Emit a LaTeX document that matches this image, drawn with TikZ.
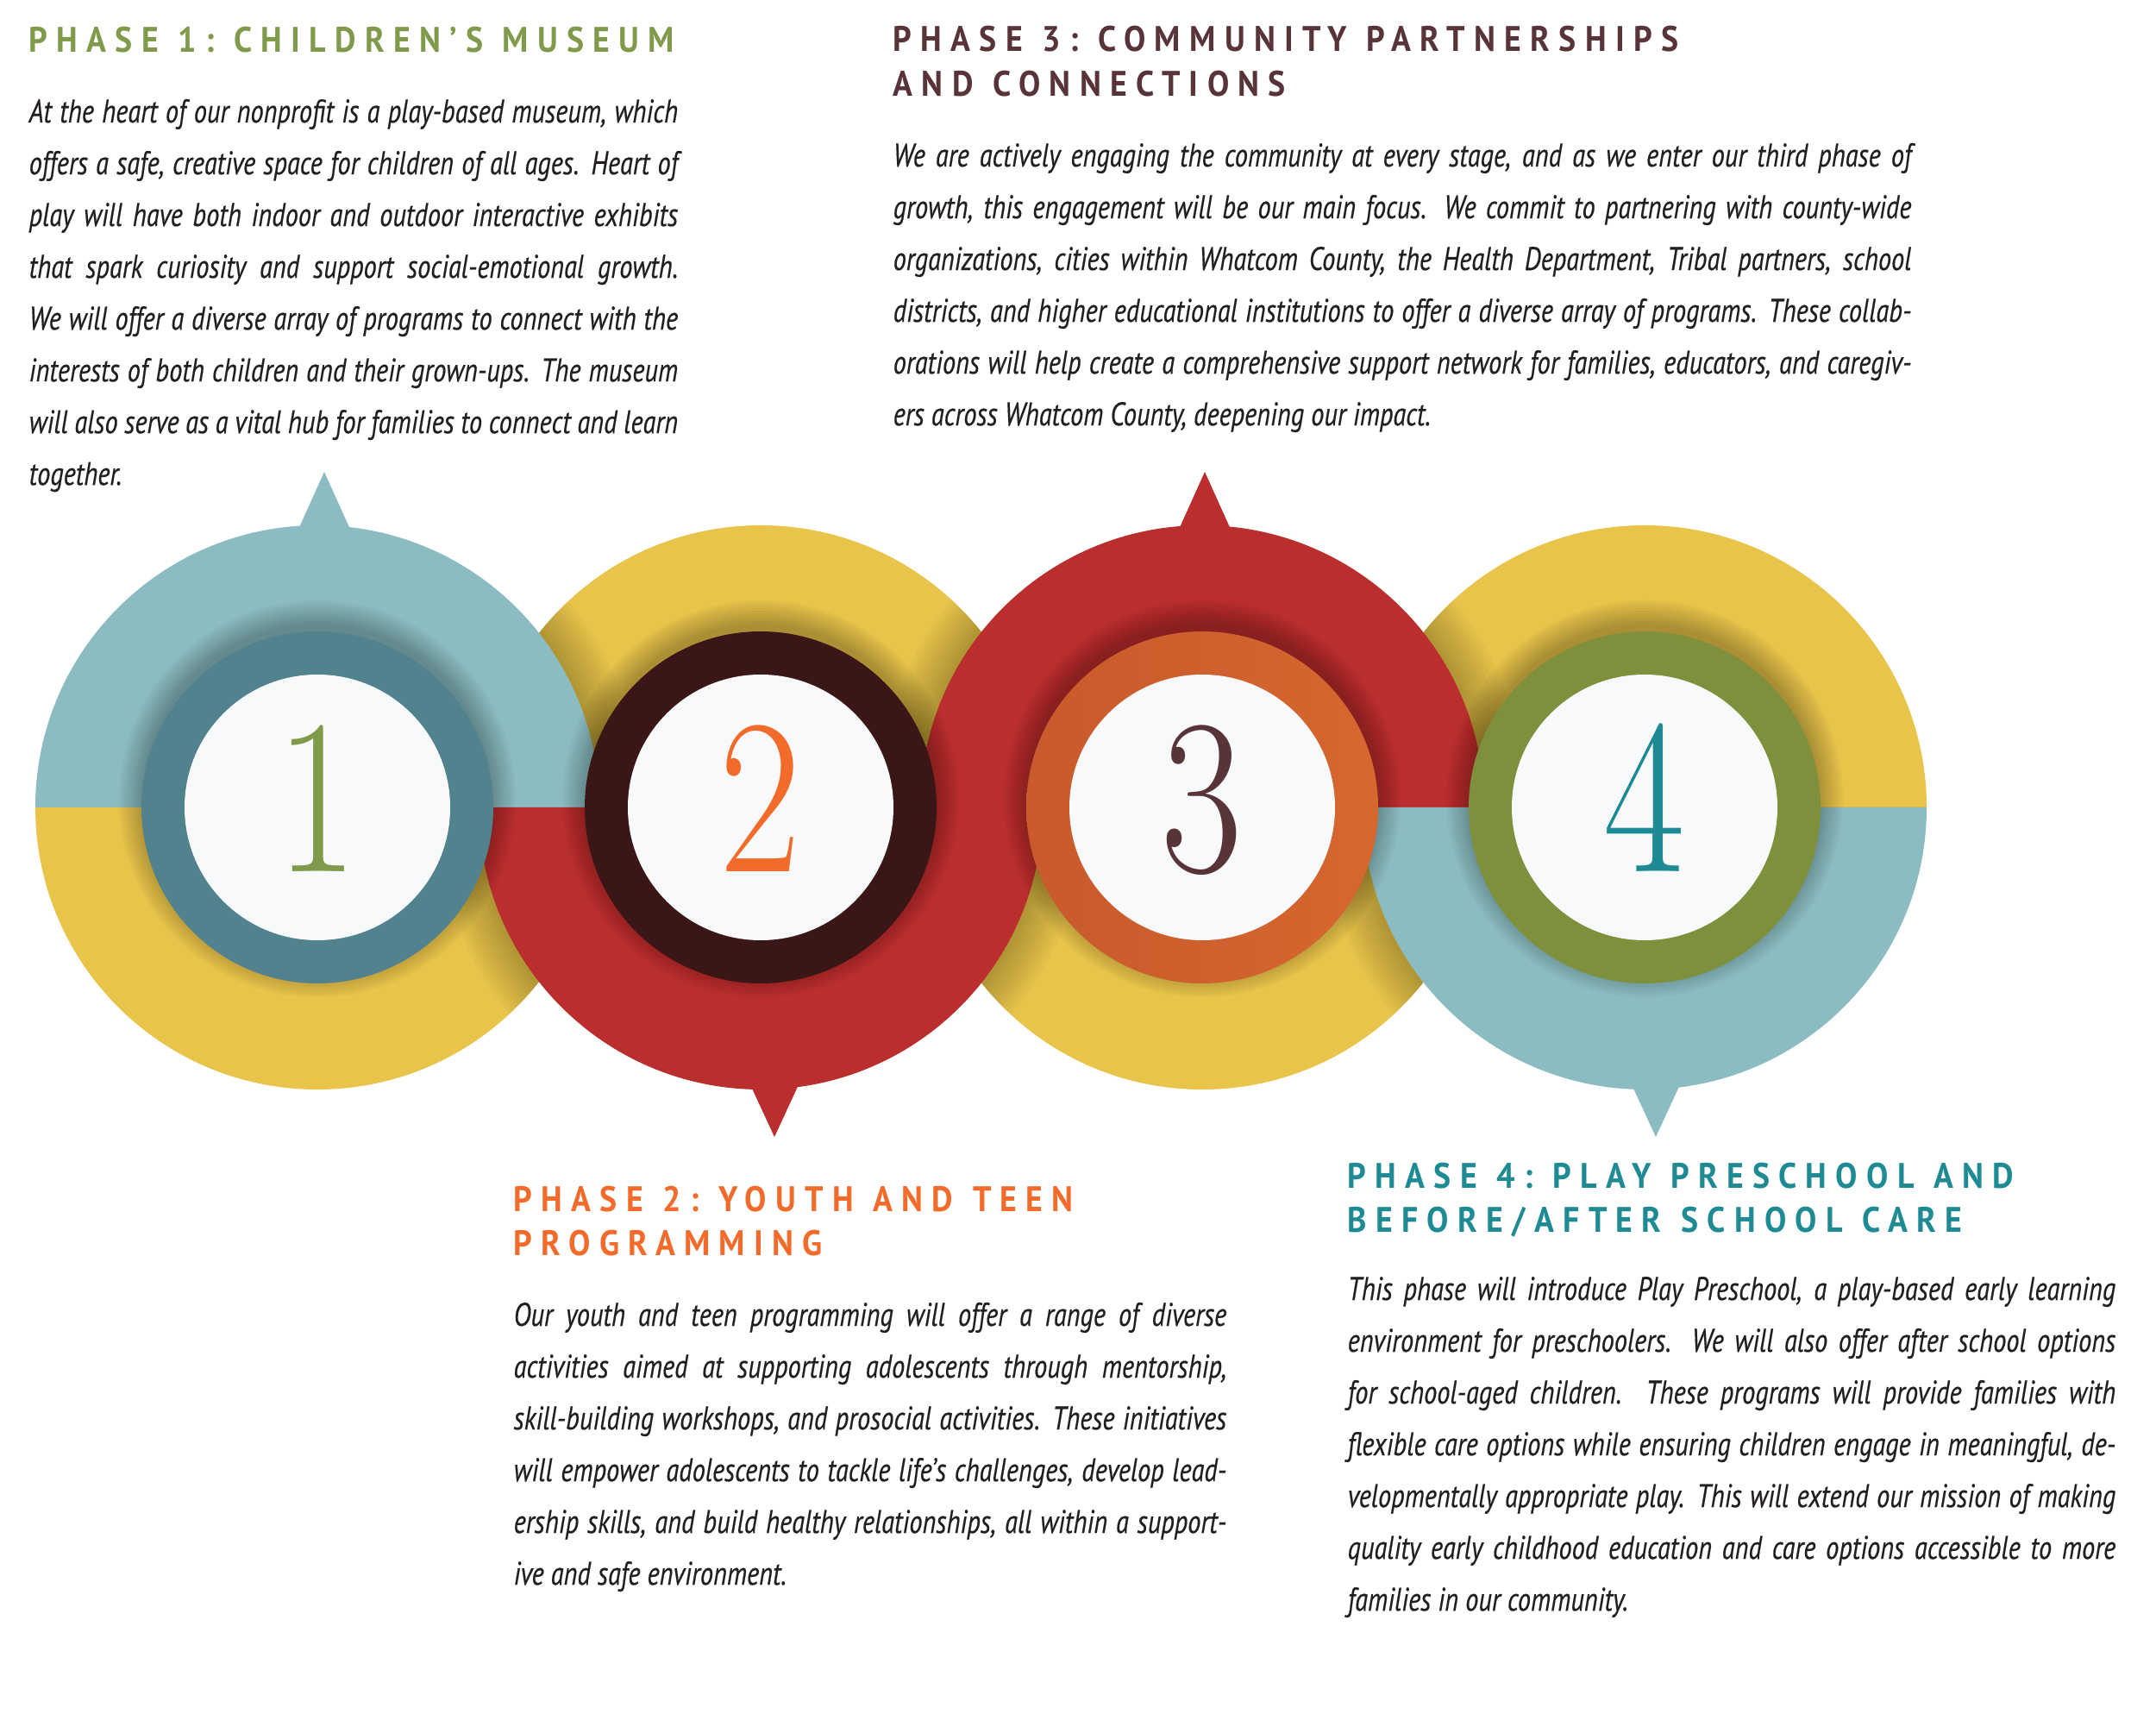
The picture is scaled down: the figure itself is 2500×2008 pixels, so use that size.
\documentclass[tikz,border=0pt]{standalone}
\usepackage{fontspec}
\usetikzlibrary{calc}
\newfontfamily\bodyfont[FakeStretch=0.8,FakeBold=0.4]{PT Sans}
\newfontfamily\headfont[FakeStretch=0.92,LetterSpace=25]{PT Sans}
\newfontfamily\numfont[FakeStretch=0.8]{Latin Modern Roman}
\newcommand\wsp{\hspace{0.55em}}
\definecolor{ink}{HTML}{231F20}
\definecolor{tealpale}{HTML}{8BBCC1}
\definecolor{sun}{HTML}{E8C44A}
\definecolor{brick}{HTML}{BA2E2E}
\definecolor{ringteal}{HTML}{51828E}
\definecolor{ringbrown}{HTML}{3A1617}
\definecolor{ringorange}{HTML}{D6672F}
\definecolor{ringrust}{HTML}{C85A2C}
\definecolor{ringolive}{HTML}{7E903B}
\definecolor{paper}{HTML}{F7F9FA}
\definecolor{olive}{HTML}{7F9A4A}
\definecolor{tangerine}{HTML}{F26B2A}
\definecolor{plum}{HTML}{583338}
\definecolor{lagoon}{HTML}{1E8A94}
\newcommand\upperhalf[2]{(#1) ++({#2},0) arc[start angle=0,end angle=180,radius={#2}] -- cycle}
\newcommand\lowerhalf[2]{(#1) ++({-(#2)},0) arc[start angle=180,end angle=360,radius={#2}] -- cycle}
\tikzset{
  heading/.style={anchor=base west,inner sep=0pt,text width=10cm,align=left,font=\headfont\bfseries\fontsize{11.7}{14.65}\selectfont,text=#1},
  blurb/.style={anchor=base west,inner sep=0pt,text width=#1,align=justify,font=\bodyfont\itshape\fontsize{10.8}{17.07}\selectfont,text=ink},
  numeral/.style={anchor=base,inner sep=0pt,font=\numfont\fontsize{73}{73}\selectfont,text=#1},
  cast/.style={fill=black,opacity=0.025},
  halo/.style={fill=black,opacity=0.028}
}

\begin{document}
\begin{tikzpicture}[x=0.01cm,y=0.01cm]
  \fill[white] (0,0) rectangle (2500,2008);
  \useasboundingbox (0,0) rectangle (2500,2008);
  \coordinate (c1) at (368,1072);
  \coordinate (c2) at (882,1072);
  \coordinate (c3) at (1394,1072);
  \coordinate (c4) at (1907,1072);

  % halves that lie underneath
  \fill[sun] \lowerhalf{c1}{327};
  \fill[sun] \upperhalf{c2}{327};
  \fill[sun] \lowerhalf{c3}{327};
  \fill[sun] \upperhalf{c4}{327};
  \begin{scope}
    \clip \lowerhalf{c1}{327} \upperhalf{c2}{327} \lowerhalf{c3}{327} \upperhalf{c4}{327};
    \foreach \k in {1,...,10}
      \fill[cast] \upperhalf{c1}{327+\k*5} \lowerhalf{c2}{327+\k*5} \upperhalf{c3}{327+\k*5} \lowerhalf{c4}{327+\k*5};
  \end{scope}

  % halves on top, with their spikes
  \fill[tealpale] \upperhalf{c1}{327};
  \fill[tealpale] (408,1390) -- (376,1461) -- (344,1390) -- cycle;
  \fill[brick] \lowerhalf{c2}{327};
  \fill[brick] (867,757) -- (898,690) -- (929,757) -- cycle;
  \fill[brick] \upperhalf{c3}{327};
  \fill[brick] (1429,1390) -- (1397,1461) -- (1365,1390) -- cycle;
  \fill[tealpale] \lowerhalf{c4}{327};
  \fill[tealpale] (1889,757) -- (1920,690) -- (1951,757) -- cycle;

  \foreach \c in {c1,c2,c3,c4}
    \foreach \k in {1,...,10}
      \fill[halo] ($(\c)+(0,10)$) circle ({200+\k*3});

  \fill[ringteal] (c1) circle (204);
  \fill[ringbrown] (c2) circle (204);
  \shade[left color=ringrust,right color=ringorange] (c3) circle (204);
  \fill[ringolive] (c4) circle (204);
  \foreach \c in {c1,c2,c3,c4}
    \fill[paper] (\c) circle (154);

  \node[numeral=olive] (n1) at (368,997) {1};
  \node[numeral=tangerine] (n2) at (882,997) {2};
  \node[numeral=plum] (n3) at (1394,997) {3};
  \node[numeral=lagoon] (n4) at (1907,997) {4};

  \node[heading=olive] (h1) at (33,1947) {PHASE\wsp 1:\wsp CHILDREN’S\wsp MUSEUM};
  \node[blurb=7.52cm] (b1) at (33,1866) {At the heart of our nonprofit is a play-based museum, which\linebreak
    offers a safe, creative space for children of all ages. Heart of\linebreak
    play will have both indoor and outdoor interactive exhibits\linebreak
    that spark curiosity and support social-emotional growth.\linebreak
    We will offer a diverse array of programs to connect with the\linebreak
    interests of both children and their grown-ups. The museum\linebreak
    will also serve as a vital hub for families to connect and learn\linebreak
    together.};

  \node[heading=plum] (h3) at (1035,1948) {PHASE\wsp 3:\wsp COMMUNITY\wsp PARTNERSHIPS\\AND\wsp CONNECTIONS};
  \node[blurb=11.8cm] (b3) at (1035,1815) {We are actively engaging the community at every stage, and as we enter our third phase of\linebreak
    growth, this engagement will be our main focus. We commit to partnering with county-wide\linebreak
    organizations, cities within Whatcom County, the Health Department, Tribal partners, school\linebreak
    districts, and higher educational institutions to offer a diverse array of programs. These collab-\linebreak
    orations will help create a comprehensive support network for families, educators, and caregiv-\linebreak
    ers across Whatcom County, deepening our impact.};

  \node[heading=tangerine] (h2) at (595,604) {PHASE\wsp 2:\wsp YOUTH\wsp AND\wsp TEEN\\PROGRAMMING};
  \node[blurb=8.26cm] (b2) at (595,471) {Our youth and teen programming will offer a range of diverse\linebreak
    activities aimed at supporting adolescents through mentorship,\linebreak
    skill-building workshops, and prosocial activities. These initiatives\linebreak
    will empower adolescents to tackle life’s challenges, develop lead-\linebreak
    ership skills, and build healthy relationships, all within a support-\linebreak
    ive and safe environment.};

  \node[heading=lagoon] (h4) at (1562,631) {PHASE\wsp 4:\wsp PLAY\wsp PRESCHOOL\wsp AND\\BEFORE/AFTER\wsp SCHOOL\wsp CARE};
  \node[blurb=8.9cm] (b4) at (1562,501) {This phase will introduce Play Preschool, a play-based early learning\linebreak
    environment for preschoolers. We will also offer after school options\linebreak
    for school-aged children. These programs will provide families with\linebreak
    flexible care options while ensuring children engage in meaningful, de-\linebreak
    velopmentally appropriate play. This will extend our mission of making\linebreak
    quality early childhood education and care options accessible to more\linebreak
    families in our community.};
\end{tikzpicture}
\end{document}
